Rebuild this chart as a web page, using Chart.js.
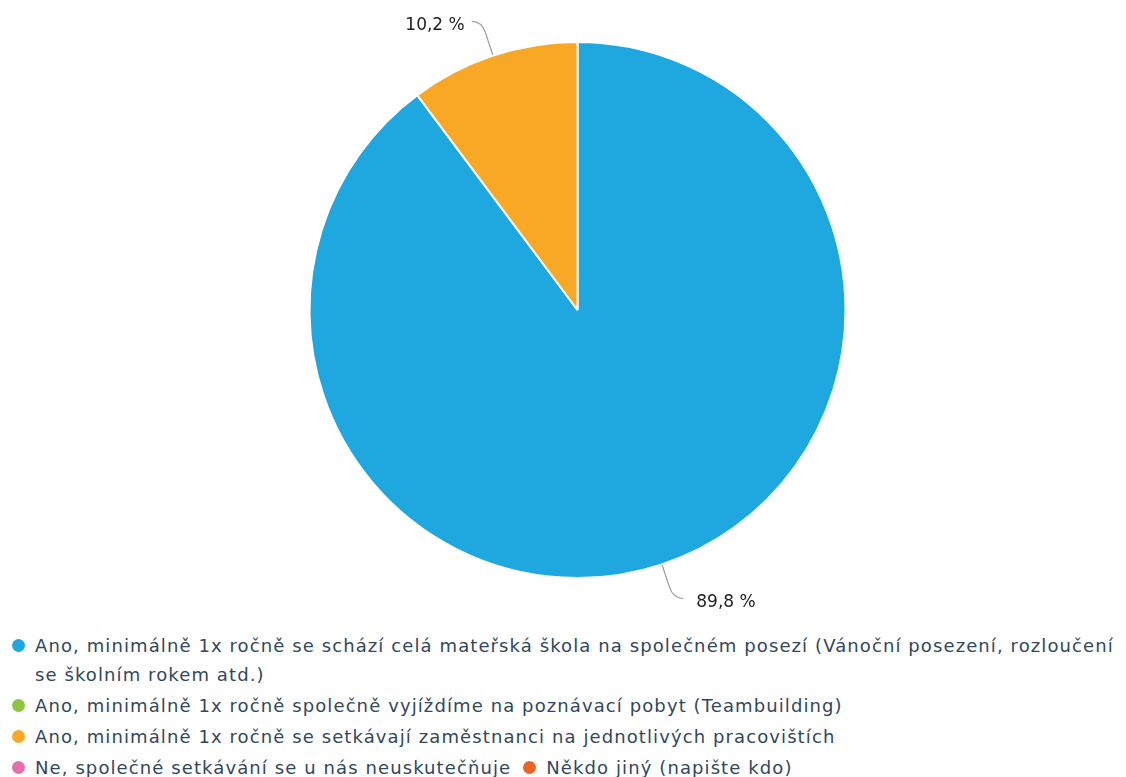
<!DOCTYPE html>
<html><head><meta charset="utf-8">
<script src="https://cdn.jsdelivr.net/npm/chart.js@4.4.1/dist/chart.umd.min.js"></script>
<style>
html,body{margin:0;padding:0;background:#fff;width:1126px;height:777px;overflow:hidden;}
#wrap{position:relative;width:1126px;height:620px;}
#legend{position:absolute;left:12px;top:631px;width:1114px;display:flex;flex-wrap:wrap;font-family:"DejaVu Sans",sans-serif;font-size:18px;letter-spacing:1.1px;color:#31475e;line-height:29px;}
.item{display:flex;align-items:flex-start;margin-right:12px;margin-bottom:2px;}
.item:first-child{margin-right:0;}
.mk{flex:0 0 auto;width:13px;height:13px;border-radius:50%;margin-top:8px;margin-right:10px;}
</style></head>
<body>
<div id="wrap"><canvas id="c"></canvas></div>
<div id="legend"></div>
<script>
const categories = [
 "Ano, minimálně 1x ročně se schází celá mateřská škola na společném posezí (Vánoční posezení, rozloučení se školním rokem atd.)",
 "Ano, minimálně 1x ročně společně vyjíždíme na poznávací pobyt (Teambuilding)",
 "Ano, minimálně 1x ročně se setkávají zaměstnanci na jednotlivých pracovištích",
 "Ne, společné setkávání se u nás neuskutečňuje",
 "Někdo jiný (napište kdo)"
];
const percentages = [89.8, 0, 10.2, 0, 0];
const colors = ["#1fa8e0", "#8cc63f", "#f9a825", "#e86eaa", "#ef6226"];

const labelPlugin = {
  id: 'outLabels',
  afterDatasetsDraw(chart) {
    const ctx = chart.ctx;
    const meta = chart.getDatasetMeta(0);
    meta.data.forEach((arc, i) => {
      const v = percentages[i];
      if (!v) return;
      const p = arc.getProps(['x','y','startAngle','endAngle','outerRadius']);
      const mid = (p.startAngle + p.endAngle) / 2;
      const cs = Math.cos(mid), sn = Math.sin(mid);
      const r = p.outerRadius;
      const x0 = p.x + cs * (r + 1), y0 = p.y + sn * (r + 1);
      const x1 = p.x + cs * (r + 24), y1 = p.y + sn * (r + 24);
      const cx = p.x + cs * (r + 36), cy = p.y + sn * (r + 36);
      const side = cs >= 0 ? 1 : -1;
      const ex = cx + side * 10, ey = cy;
      ctx.save();
      ctx.strokeStyle = '#a0a0a0';
      ctx.lineWidth = 1.3;
      ctx.beginPath();
      ctx.moveTo(x0, y0);
      ctx.lineTo(x1, y1);
      ctx.quadraticCurveTo(cx, cy, ex, ey);
      ctx.stroke();
      ctx.fillStyle = '#222';
      ctx.font = '17px "DejaVu Sans", sans-serif';
      ctx.textBaseline = 'middle';
      ctx.textAlign = side > 0 ? 'left' : 'right';
      ctx.fillText(v.toFixed(1).replace('.', ',') + ' %', ex + side * (side > 0 ? 13 : 7), ey + 4);
      ctx.restore();
    });
  }
};

const htmlLegend = {
  id: 'htmlLegend',
  afterUpdate(chart) {
    const box = document.getElementById('legend');
    box.innerHTML = '';
    const items = chart.options.plugins.legend.labels.generateLabels(chart);
    items.forEach(it => {
      const d = document.createElement('div');
      d.className = 'item';
      const m = document.createElement('span');
      m.className = 'mk';
      m.style.background = it.fillStyle;
      const t = document.createElement('span');
      t.textContent = it.text;
      d.appendChild(m); d.appendChild(t);
      box.appendChild(d);
    });
  }
};

new Chart(document.getElementById('c'), {
  type: 'pie',
  data: {
    labels: categories,
    datasets: [{
      data: percentages,
      backgroundColor: colors,
      borderColor: '#ffffff',
      borderWidth: 2
    }]
  },
  options: {
    responsive: true,
    maintainAspectRatio: false,
    animation: false,
    layout: { padding: { top: 41, bottom: 41, left: 29, right: 0 } },
    plugins: {
      legend: { display: false },
      tooltip: { enabled: false }
    }
  },
  plugins: [labelPlugin, htmlLegend]
});
</script>
</body></html>
